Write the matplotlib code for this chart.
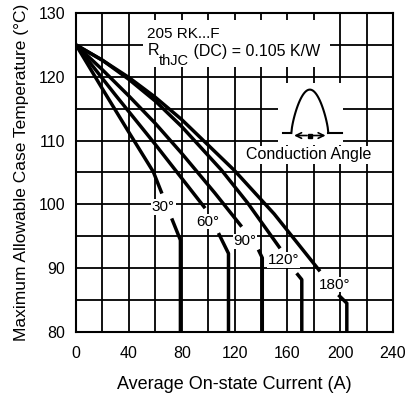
import matplotlib
matplotlib.use("Agg")
import matplotlib.pyplot as plt
from matplotlib.patches import Rectangle
import numpy as np

plt.rcParams['font.family'] = ['Liberation Sans', 'DejaVu Sans']

# derating curves: main part up to the angle label, then the tail that drops off
cur_30 = [0, 20, 40, 58.5, 65]
tc_30 = [125, 118.1, 111.3, 105.1, 101.7]
cur_30_tail = [72.4, 79, 79]
tc_30_tail = [97.8, 94.4, 80]

cur_60 = [0, 30, 60, 80, 97.7]
tc_60 = [125, 117.1, 109.4, 104.1, 99.4]
cur_60_tail = [107.8, 115.4, 115.4]
tc_60_tail = [95.5, 92.3, 80]

cur_90 = [0, 20, 40, 60, 80, 105, 125.4]
tc_90 = [125, 121.1, 117.0, 112.7, 108.0, 101.8, 96.5]
cur_90_tail = [138, 141, 141]
tc_90_tail = [92.9, 91.6, 80]

cur_120 = [0, 20, 40, 60, 80, 110, 130, 154.5]
tc_120 = [125, 122.6, 119.6, 116.2, 112.2, 105.4, 100.2, 93.1]
cur_120_tail = [167, 170.9, 170.9]
tc_120_tail = [89.2, 88.2, 80]

cur_180 = [0, 20, 40, 60, 80, 120, 150, 184.7]
tc_180 = [125, 122.6, 119.9, 116.8, 113.3, 105.3, 98.5, 89.5]
cur_180_tail = [198.6, 205, 205]
tc_180_tail = [85.8, 84.5, 80]

angle_labels = ['30°', '60°', '90°', '120°', '180°']
label_x = [66, 100, 128, 157, 196]
label_y = [99.6, 97.3, 94.2, 91.3, 87.4]

fig = plt.figure(figsize=(4.09, 3.97), dpi=100)
ax = fig.add_axes([0.186, 0.164, 0.775, 0.803])

ax.set_xlim(0, 240)
ax.set_ylim(80, 130)
ax.set_xticks(np.arange(0, 241, 40))
ax.set_xticks(np.arange(0, 241, 20), minor=True)
ax.set_yticks(np.arange(80, 131, 10))
ax.set_yticks(np.arange(80, 131, 5), minor=True)
ax.grid(True, which='both', color='black', lw=1.3, zorder=1)
ax.set_axisbelow(True)
ax.tick_params(which='both', length=0)
ax.tick_params(axis='x', pad=10, labelsize=11.5)
ax.tick_params(axis='y', pad=8, labelsize=11.5)
for s in ax.spines.values():
    s.set_linewidth(1.5)

curves = [
    (cur_30, tc_30, cur_30_tail, tc_30_tail),
    (cur_60, tc_60, cur_60_tail, tc_60_tail),
    (cur_90, tc_90, cur_90_tail, tc_90_tail),
    (cur_120, tc_120, cur_120_tail, tc_120_tail),
    (cur_180, tc_180, cur_180_tail, tc_180_tail),
]
for x, y, xt, yt in curves:
    ax.plot(x, y, color='black', lw=2.5, solid_capstyle='butt', zorder=3)
    ax.plot(xt, yt, color='black', lw=2.5, solid_capstyle='butt', zorder=3)

for txt, lx, ly in zip(angle_labels, label_x, label_y):
    ax.text(lx, ly, txt, ha='center', va='center', fontsize=11, zorder=5,
            bbox=dict(facecolor='white', edgecolor='none', pad=0.5))

# device info block on a white patch
ax.add_patch(Rectangle((50.5, 121.6), 142, 7.3, facecolor='white',
                       edgecolor='none', zorder=2))
ax.text(54, 126.8, '205 RK...F', ha='left', va='center', fontsize=11, zorder=5)
r_txt = ax.text(54, 124.1, 'R', ha='left', va='center', fontsize=11.5, zorder=5)
sub = ax.annotate('thJC', xy=(1, 0.3), xycoords=r_txt, ha='left', va='top',
                  fontsize=10.5, zorder=5)
ax.annotate(' (DC) = 0.105 K/W', xy=(1, 0.6), xycoords=sub, ha='left',
            va='bottom', fontsize=11.5, zorder=5)

# conduction angle sketch
ax.add_patch(Rectangle((153, 109.3), 49, 9.7, facecolor='white',
                       edgecolor='none', zorder=2))
px = np.linspace(163, 191, 60)
py = 111.2 + 6.8 * np.sin(np.pi * (px - 163) / 28) ** 0.7
ax.plot(px, py, color='black', lw=1.5, zorder=4)
ax.plot([157, 163], [111.2, 111.2], color='black', lw=1.5, zorder=4)
ax.plot([191, 201.5], [111.2, 111.2], color='black', lw=1.5, zorder=4)
ax.annotate('', xy=(163, 110.8), xytext=(177, 110.8),
            arrowprops=dict(arrowstyle='->', lw=1.2, color='black'), zorder=4)
ax.annotate('', xy=(191, 110.8), xytext=(177, 110.8),
            arrowprops=dict(arrowstyle='->', lw=1.2, color='black'), zorder=4)
ax.plot([177], [110.8], 's', color='black', ms=3.5, zorder=4)
ax.text(176, 107.8, 'Conduction Angle', ha='center', va='center', fontsize=11.5,
        zorder=5, bbox=dict(facecolor='white', edgecolor='none', pad=1))

ax.set_xlabel('Average On-state Current (A)', fontsize=13, labelpad=11)
ax.set_ylabel('Maximum Allowable Case Temperature (°C)', fontsize=12.5,
              labelpad=7)

fig.savefig('out.png', dpi=100)
